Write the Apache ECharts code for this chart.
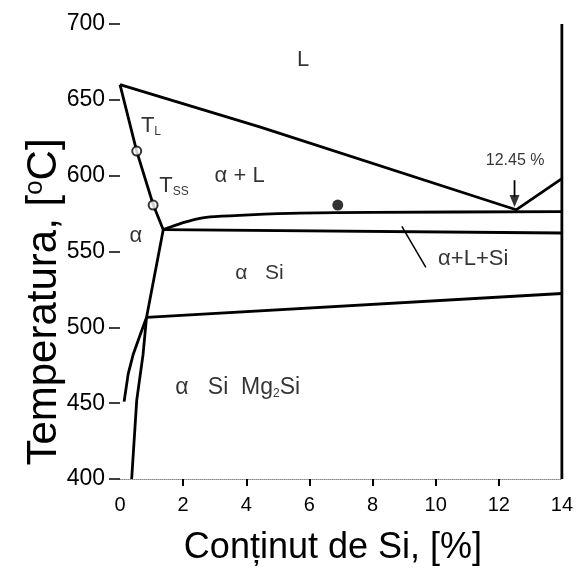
<!DOCTYPE html>
<html>
<head>
<meta charset="utf-8">
<script src="https://cdn.jsdelivr.net/npm/echarts@6/dist/echarts.min.js"></script>
<style>
  html, body { margin: 0; padding: 0; background: #fff; }
  #chart { width: 576px; height: 571px; }
</style>
</head>
<body>
<div id="chart"></div>
<script>
// Al–Si–Mg section: temperature vs. silicon content
const xTicks = [0, 2, 4, 6, 8, 10, 12, 14];
const yTicks = [400, 450, 500, 550, 600, 650, 700];
const xTickMarks = [2, 4, 6, 8, 10, 12];

// liquidus of Al and solidus/solvus down to the bottom
const alphaBoundary = [[0, 660], [0.53, 616], [1.05, 581], [1.37, 564.4],
                       [0.84, 506.5], [0.73, 482], [0.53, 452], [0.37, 400]];
// Mg2Si solvus branch
const mg2siSolvus = [[0.84, 506.5], [0.62, 494], [0.42, 482.3], [0.26, 469.3], [0.13, 451]];
// liquidus down to the eutectic and up on the Si side
const liquidus = [[0, 660], [4.45, 632], [12.55, 577.5], [14, 598]];
// upper boundary of α+L+Si
const eutecticUpper = [[1.37, 564.4], [2, 569], [2.53, 571.9], [3, 573], [4.1, 574.2],
                       [5.7, 575.3], [8, 575.8], [14, 576.3]];
// lower boundary of α+L+Si
const eutecticLower = [[1.37, 564.4], [14, 562.2]];
// α+Si / α+Si+Mg2Si boundary
const ternaryLine = [[0.84, 506.5], [14, 522.3]];
// right border at 14 % Si
const rightEdge = [[14, 400], [14, 700]];
// leader for the α+L+Si label
const leader = [[8.93, 566.5], [9.69, 539.5]];
// arrow pointing at the eutectic composition
const arrowShaft = [[12.5, 597], [12.5, 586]];
const arrowTip = [[12.5, 586]];
// measured points: T_L and T_SS on the alloy line
const openPoints = [[0.53, 616.2], [1.05, 580.6]];
const alloyPoint = [[6.9, 580.6]];

// region and point labels: [x, T, text] (label centred on the point)
const labels = [
  [5.8, 676, '{b|L}'],
  [0.98, 632.5, '{b|T}{s|L}'],
  [1.71, 593, '{b|T}{s|SS}'],
  [3.79, 600, '{b|α + L}'],
  [0.5, 560, '{b|α}'],
  [4.42, 535.5, '{m|α   Si}'],
  [11.19, 545, '{b|α+L+Si}'],
  [3.73, 460, '{c|α   Si  Mg}{s|2}{c|Si}'],
  [12.52, 610, '{n|12.45 %}']
];

const FONT = '"Liberation Sans", Arial, sans-serif';
const LW = 2.8;

function lineSeries(data, width) {
  return {
    type: 'line', data: data, symbol: 'none', silent: true,
    lineStyle: { color: '#000', width: width || LW }, z: 3
  };
}

const chart = echarts.init(document.getElementById('chart'), null, { renderer: 'canvas' });

chart.setOption({
  animation: false,
  backgroundColor: '#fff',
  textStyle: { fontFamily: FONT },
  grid: { left: 120, right: 13, top: 24, bottom: 84, containLabel: false },
  // vertical axis title
  graphic: [{
    type: 'text', x: 44, y: 302, rotation: Math.PI / 2, silent: true,
    style: {
      text: '{a|Temperatura, [}{sup|o}{a|C]}',
      align: 'center', verticalAlign: 'middle', fill: '#000',
      rich: {
        a: { fontSize: 42, fontFamily: FONT, fill: '#000' },
        sup: { fontSize: 26, fontFamily: FONT, fill: '#000', verticalAlign: 'top', padding: [0, 0, 18, 0] }
      }
    }
  }],
  xAxis: {
    type: 'value', min: xTicks[0], max: xTicks[xTicks.length - 1], interval: 2,
    name: 'Conținut de Si, [%]', nameLocation: 'middle', nameGap: 51,
    nameTextStyle: { fontSize: 36, color: '#000', fontFamily: FONT, padding: [0, 16, 0, 0] },
    axisLine: { show: true, lineStyle: { color: '#888', width: 1, type: 'dotted' } },
    axisTick: { show: true, inside: false, length: 7, customValues: xTickMarks,
                lineStyle: { color: '#000', width: 2 } },
    axisLabel: { fontSize: 20, color: '#000', margin: 16, customValues: xTicks,
                 fontFamily: FONT },
    splitLine: { show: false }
  },
  yAxis: {
    type: 'value', min: yTicks[0], max: yTicks[yTicks.length - 1], interval: 50,
    axisLine: { show: false },
    axisTick: { show: true, inside: false, length: 11, lineStyle: { color: '#000', width: 1.5 } },
    axisLabel: { fontSize: 23, color: '#000', margin: 15, customValues: yTicks, fontFamily: FONT },
    splitLine: { show: false }
  },
  series: [
    lineSeries(alphaBoundary),
    lineSeries(mg2siSolvus),
    lineSeries(liquidus),
    Object.assign(lineSeries(eutecticUpper), { smooth: 0.3 }),
    lineSeries(eutecticLower),
    lineSeries(ternaryLine),
    lineSeries(rightEdge, 2.8),
    lineSeries(leader, 1.5),
    lineSeries(arrowShaft, 1.8),
    {
      type: 'scatter', data: arrowTip, symbol: 'triangle', symbolSize: [10, 12],
      symbolRotate: 180, symbolOffset: [0, 4], silent: true, z: 5,
      itemStyle: { color: '#000' }
    },
    {
      type: 'scatter', data: openPoints, symbol: 'circle', symbolSize: 9, silent: true, z: 5,
      itemStyle: { color: '#fff', borderColor: '#000', borderWidth: 2 }
    },
    {
      type: 'scatter', data: alloyPoint, symbol: 'circle', symbolSize: 11, silent: true, z: 5,
      itemStyle: { color: '#000' }
    },
    {
      type: 'scatter', silent: true, symbolSize: 0, z: 6,
      data: labels.map(l => ({ value: [l[0], l[1]], text: l[2] })),
      label: {
        show: true, position: 'inside',
        formatter: p => p.data.text,
        rich: {
          b: { fontSize: 22, color: '#000', fontFamily: FONT },
          m: { fontSize: 21, color: '#000', fontFamily: FONT },
          c: { fontSize: 23, color: '#000', fontFamily: FONT },
          s: { fontSize: 12, color: '#000', fontFamily: FONT, verticalAlign: 'bottom', padding: [8, 0, 0, 0] },
          n: { fontSize: 16, color: '#000', fontFamily: FONT }
        }
      }
    }
  ]
});
</script>
</body>
</html>
